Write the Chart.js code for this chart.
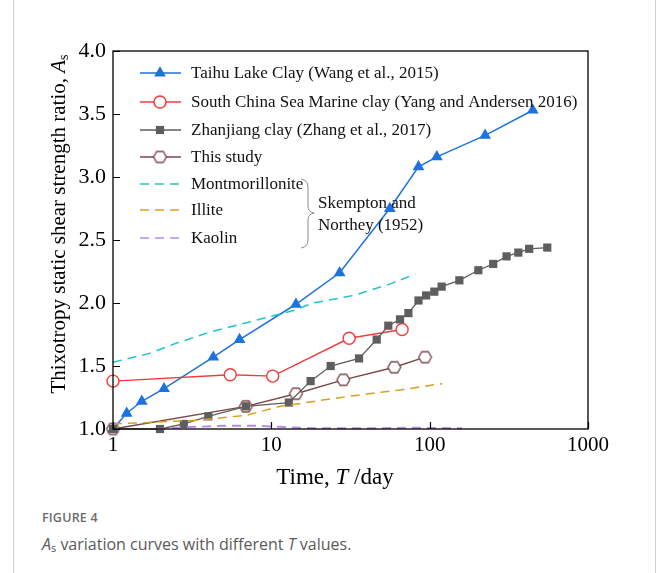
<!DOCTYPE html>
<html>
<head>
<meta charset="utf-8">
<script src="https://cdn.jsdelivr.net/npm/chart.js@4"></script>
<style>
  body { margin: 0; background: #fff; }
  #card { position: absolute; left: 13px; top: -2px; width: 641px; height: 600px; border-left: 1px solid #cfcfcf; border-right: 1px solid #cfcfcf; }
  #plot { position: absolute; left: 0; top: 0; }
  .cap1 { position: absolute; left: 42px; top: 509px; font: 600 12.5px "Open Sans", sans-serif; color: #6b6b6b; letter-spacing: 0.2px; }
  .cap2 { position: absolute; left: 42px; top: 533px; font: 16px "Open Sans", sans-serif; color: #5a5a5a; }
  .cap2 sub { font-size: 11px; vertical-align: -2px; line-height: 0; }
</style>
</head>
<body>
<div id="card"></div>
<canvas id="plot" width="656" height="500"></canvas>
<div class="cap1">FIGURE 4</div>
<div class="cap2"><i>A</i><sub>s</sub> variation curves with different <i>T</i> values.</div>
<script>
// tick values
const xTicks = [1, 10, 100, 1000];

// Taihu Lake Clay (Wang et al., 2015)
const taihuT = [1, 1.22, 1.52, 2.1, 4.3, 6.3, 14.3, 27, 56, 85, 111, 224, 448];
const taihuA = [1.0, 1.125, 1.22, 1.32, 1.57, 1.71, 1.99, 2.24, 2.75, 3.08, 3.16, 3.33, 3.53];

// South China Sea Marine clay
const scsT = [1, 5.5, 10.2, 31, 67];
const scsA = [1.38, 1.43, 1.42, 1.72, 1.79];

// Zhanjiang clay
const zjT = [1, 1.98, 2.8, 4.0, 6.9, 12.9, 17.7, 23.7, 35.8, 46.3, 54.8, 65, 73.4, 85, 95, 107, 119, 154, 203, 252, 306, 363, 425, 553];
const zjA = [1.0, 1.0, 1.04, 1.10, 1.18, 1.21, 1.38, 1.50, 1.56, 1.71, 1.82, 1.87, 1.92, 2.02, 2.06, 2.09, 2.13, 2.18, 2.26, 2.31, 2.37, 2.40, 2.43, 2.44];

// This study
const studyT = [1, 6.9, 14.3, 28.5, 59.8, 93.5];
const studyA = [1.0, 1.18, 1.28, 1.39, 1.49, 1.57];

// Skempton and Northey (1952)
const montT = [1, 1.7, 2.5, 4.1, 7.3, 13.8, 18.4, 33, 56, 81];
const montA = [1.53, 1.60, 1.68, 1.77, 1.85, 1.94, 2.00, 2.06, 2.15, 2.23];
const illT = [1, 3.5, 7, 11.4, 31, 65, 120];
const illA = [1.04, 1.07, 1.11, 1.18, 1.26, 1.31, 1.36];
const kaoT = [1.9, 3, 5, 8, 12, 20, 40, 80, 160];
const kaoA = [1.0, 1.015, 1.025, 1.025, 1.015, 1.005, 1.005, 1.01, 1.005];

const SERIF = '"Liberation Serif", "Times New Roman", serif';

function pts(xs, ys) {
  return xs.map((x, i) => ({x: x, y: ys[i]}));
}

// hexagon marker (flat top, points left/right)
function makeHex(r, color) {
  const c = document.createElement('canvas');
  const s = Math.ceil(r * 2 + 4);
  c.width = s; c.height = s;
  const g = c.getContext('2d');
  g.beginPath();
  for (let k = 0; k < 6; k++) {
    const a = k * Math.PI / 3;
    const px = s / 2 + r * Math.cos(a), py = s / 2 + r * Math.sin(a);
    if (k === 0) g.moveTo(px, py); else g.lineTo(px, py);
  }
  g.closePath();
  g.fillStyle = '#fff';
  g.fill();
  g.lineWidth = 1.4;
  g.strokeStyle = color;
  g.stroke();
  return c;
}

const BLUE = '#1c72e0', RED = '#f23b3b', GRAY = '#5e5e5e', BROWN = '#7b4848';
const CYAN = '#1ec6c6', GOLD = '#d8a11c', PURPLE = '#b48ce8';
const hexImg = makeHex(6.4, BROWN);

const datasets = [
  {label: 'Montmorillonite', data: pts(montT, montA), borderColor: CYAN, borderWidth: 1.5, borderDash: [9, 6], pointRadius: 0},
  {label: 'Illite', data: pts(illT, illA), borderColor: GOLD, borderWidth: 1.5, borderDash: [9, 6], pointRadius: 0},
  {label: 'Kaolin', data: pts(kaoT, kaoA), borderColor: PURPLE, borderWidth: 2, borderDash: [9, 6], pointRadius: 0},
  {label: 'Zhanjiang clay (Zhang et al., 2017)', data: pts(zjT, zjA), borderColor: GRAY, backgroundColor: GRAY, borderWidth: 1.3,
    pointStyle: 'rect', pointRadius: 5.8, pointBorderWidth: 0},
  {label: 'South China Sea Marine clay (Yang and Andersen 2016)', data: pts(scsT, scsA), borderColor: RED, backgroundColor: '#fff', borderWidth: 1.4,
    pointStyle: 'circle', pointRadius: 6, pointBorderWidth: 1.4},
  {label: 'Taihu Lake Clay (Wang et al., 2015)', data: pts(taihuT, taihuA), borderColor: BLUE, backgroundColor: BLUE, borderWidth: 1.5,
    pointStyle: 'triangle', pointRadius: 6.8, pointBorderWidth: 0},
  {label: 'This study', data: pts(studyT, studyA), borderColor: BROWN, borderWidth: 1.4,
    pointStyle: hexImg, pointRadius: 6}
];
datasets.forEach(d => { d.showLine = true; d.clip = false; d.tension = 0; });

const legendItems = [
  {text: 'Taihu Lake Clay (Wang et al., 2015)', color: BLUE, style: 'triangle', r: 6.8, fill: BLUE},
  {text: 'South China Sea Marine clay (Yang and Andersen 2016)', color: RED, style: 'circle', r: 6, fill: '#fff'},
  {text: 'Zhanjiang clay (Zhang et al., 2017)', color: GRAY, style: 'rect', r: 5.8, fill: GRAY},
  {text: 'This study', color: BROWN, style: hexImg, r: 6},
  {text: 'Montmorillonite', color: CYAN, dash: true},
  {text: 'Illite', color: GOLD, dash: true},
  {text: 'Kaolin', color: PURPLE, dash: true}
];
const legendRows = [73, 102, 130, 157, 184, 210, 238];

const decor = {
  id: 'decor',
  afterDatasetsDraw(chart) {
    const ctx = chart.ctx;
    const a = chart.chartArea;
    const xs = chart.scales.x, ys = chart.scales.y;
    ctx.save();
    ctx.strokeStyle = '#000';
    ctx.lineWidth = 1.3;
    ctx.strokeRect(a.left, a.top, a.right - a.left, a.bottom - a.top);
    // inward ticks
    ctx.beginPath();
    xs.ticks.forEach(t => {
      const px = Math.round(xs.getPixelForValue(t.value)) + 0.5;
      ctx.moveTo(px, a.bottom); ctx.lineTo(px, a.bottom - 7);
    });
    ys.ticks.forEach(t => {
      const py = Math.round(ys.getPixelForValue(t.value)) + 0.5;
      ctx.moveTo(a.left, py); ctx.lineTo(a.left + 7, py);
    });
    ctx.lineWidth = 1.2;
    ctx.stroke();
    ctx.restore();
  },
  afterDraw(chart) {
    const ctx = chart.ctx;
    ctx.save();
    // legend
    ctx.font = '17px ' + SERIF;
    ctx.textBaseline = 'middle';
    legendItems.forEach((it, i) => {
      const y = legendRows[i];
      ctx.beginPath();
      ctx.strokeStyle = it.color;
      ctx.lineWidth = 1.5;
      ctx.setLineDash(it.dash ? [9, 6] : []);
      ctx.moveTo(140, y); ctx.lineTo(181, y);
      ctx.stroke();
      ctx.setLineDash([]);
      if (it.style) {
        ctx.fillStyle = it.fill || '#fff';
        ctx.strokeStyle = it.color;
        Chart.helpers.drawPoint(ctx, {pointStyle: it.style, radius: it.r, rotation: 0,
          borderWidth: it.style === 'circle' ? 1.4 : 0}, 160, y);
      }
      ctx.fillStyle = '#111';
      ctx.fillText(it.text, 191, y + 1);
    });
    // brace + reference
    ctx.beginPath();
    ctx.strokeStyle = '#8a8a8a';
    ctx.lineWidth = 1;
    ctx.moveTo(301, 179);
    ctx.quadraticCurveTo(308, 180, 308, 187);
    ctx.lineTo(308, 206);
    ctx.quadraticCurveTo(308, 212, 314, 213);
    ctx.quadraticCurveTo(308, 214, 308, 220);
    ctx.lineTo(308, 240);
    ctx.quadraticCurveTo(308, 247, 301, 248);
    ctx.stroke();
    ctx.fillStyle = '#111';
    ctx.fillText('Skempton and', 318, 204);
    ctx.fillText('Northey (1952)', 318, 226);

    // axis titles
    ctx.fillStyle = '#000';
    let fs = 23;
    let up = 'normal ' + fs + 'px ' + SERIF, it = 'italic ' + fs + 'px ' + SERIF;
    const xParts = [['Time, ', up], ['T', it], [' /day', up]];
    let w = 0;
    xParts.forEach(p => { ctx.font = p[1]; w += ctx.measureText(p[0]).width; });
    let x0 = 335 - w / 2;
    ctx.textBaseline = 'middle';
    xParts.forEach(p => { ctx.font = p[1]; ctx.fillText(p[0], x0, 478); x0 += ctx.measureText(p[0]).width; });

    fs = 21;
    up = 'normal ' + fs + 'px ' + SERIF; it = 'italic ' + fs + 'px ' + SERIF;
    ctx.translate(59, 224);
    ctx.rotate(-Math.PI / 2);
    const sub = 'normal 14px ' + SERIF;
    const yParts = [['Thixotropy static shear strength ratio, ', up, 0], ['A', it, 0], ['s', sub, 5]];
    w = 0;
    yParts.forEach(p => { ctx.font = p[1]; w += ctx.measureText(p[0]).width; });
    x0 = -w / 2;
    yParts.forEach(p => { ctx.font = p[1]; ctx.fillText(p[0], x0, p[2]); x0 += ctx.measureText(p[0]).width; });
    ctx.restore();
  }
};

new Chart(document.getElementById('plot'), {
  type: 'scatter',
  data: {datasets: datasets},
  plugins: [decor],
  options: {
    responsive: false,
    animation: false,
    layout: {padding: {left: 0, top: 51, right: 68, bottom: 0}},
    plugins: {legend: {display: false}, tooltip: {enabled: false}},
    scales: {
      x: {
        type: 'logarithmic', min: 1, max: 1000,
        afterBuildTicks: s => { s.ticks = xTicks.map(v => ({value: v})); },
        afterFit: s => { s.height = 71; },
        grid: {display: false, drawTicks: false},
        border: {display: false},
        ticks: {padding: 4, color: '#000', font: {family: SERIF, size: 21}, callback: v => String(v), maxRotation: 0, autoSkip: false}
      },
      y: {
        min: 1, max: 4,
        afterFit: s => { s.width = 113; },
        grid: {display: false, drawTicks: false},
        border: {display: false},
        ticks: {stepSize: 0.5, padding: 7, color: '#000', font: {family: SERIF, size: 22}, callback: v => v.toFixed(1)}
      }
    }
  }
});
</script>
</body>
</html>
